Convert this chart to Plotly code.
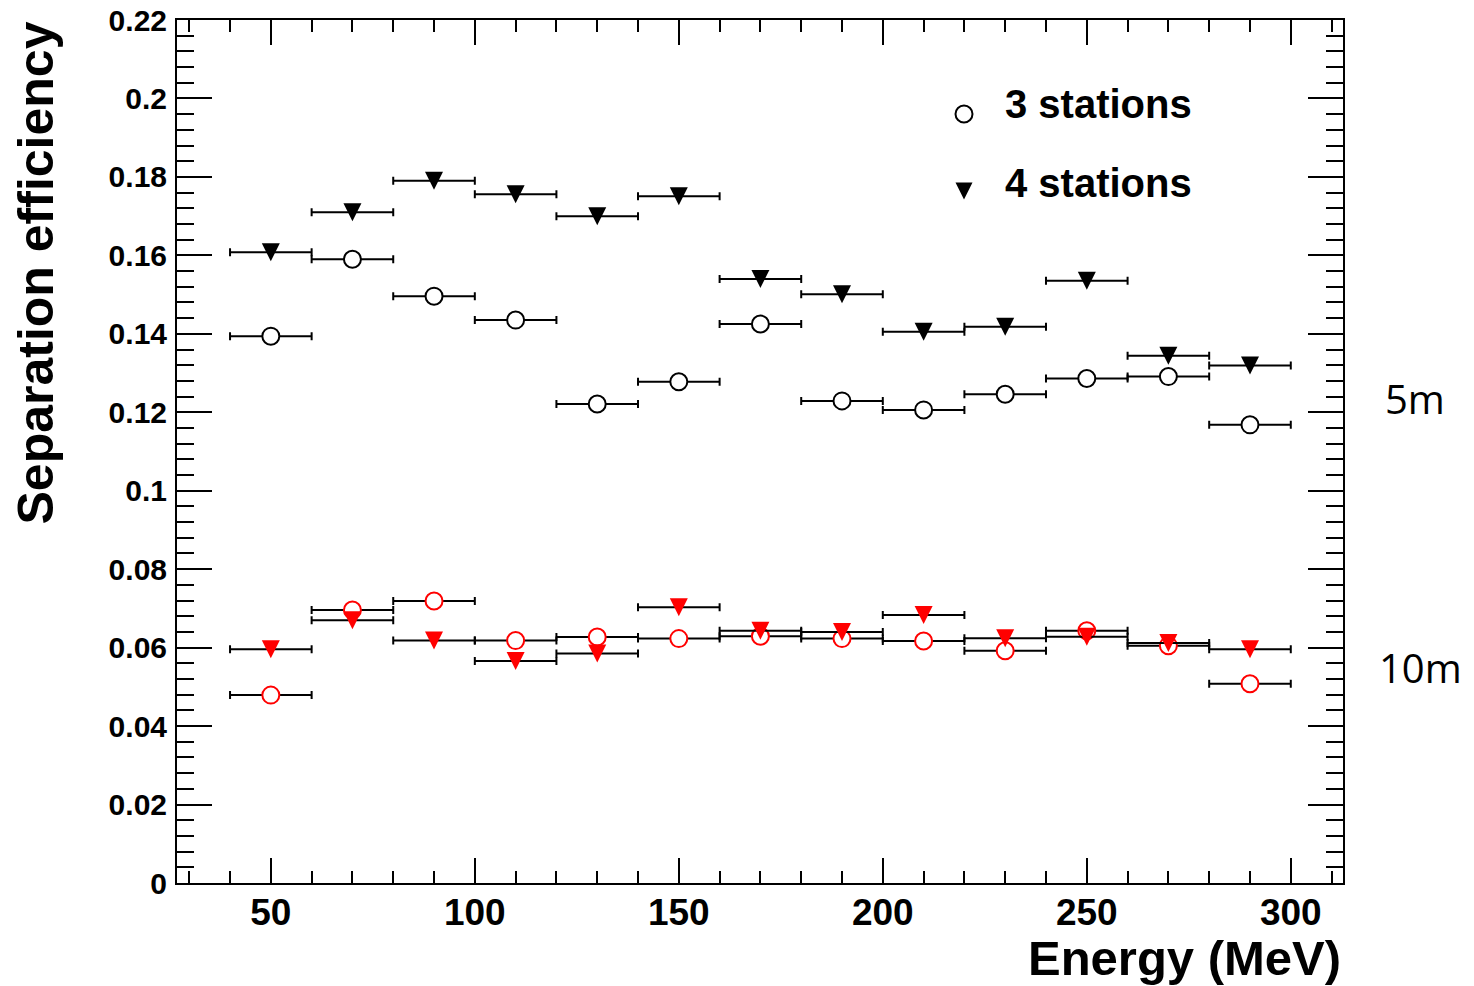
import plotly.graph_objects as go

energy = [50, 70, 90, 110, 130, 150, 170, 190, 210, 230, 250, 270, 290]
bin_half_width = [10] * 13

eff_3st_5m = [0.1394, 0.1590, 0.1496, 0.1435, 0.1221, 0.1278, 0.1425, 0.1229, 0.1206, 0.1246, 0.1286, 0.1291, 0.1168]
eff_4st_5m = [0.1608, 0.1710, 0.1790, 0.1756, 0.1700, 0.1751, 0.1540, 0.1501, 0.1405, 0.1418, 0.1535, 0.1344, 0.1319]
eff_3st_10m = [0.0479, 0.0696, 0.0719, 0.0618, 0.0627, 0.0623, 0.0629, 0.0623, 0.0617, 0.0592, 0.0643, 0.0605, 0.0508]
eff_4st_10m = [0.0596, 0.0670, 0.0618, 0.0566, 0.0585, 0.0703, 0.0643, 0.0640, 0.0683, 0.0624, 0.0628, 0.0612, 0.0596]

y_tick_vals = [0, 0.02, 0.04, 0.06, 0.08, 0.1, 0.12, 0.14, 0.16, 0.18, 0.2, 0.22]
y_tick_text = ["0", "0.02", "0.04", "0.06", "0.08", "0.1", "0.12", "0.14", "0.16", "0.18", "0.2", "0.22"]
x_tick_vals = [50, 100, 150, 200, 250, 300]
x_tick_text = ["50", "100", "150", "200", "250", "300"]

legend_labels = ["3 stations", "4 stations"]
distance_labels = ["5m", "10m"]

BOLD = "Liberation Sans"
L, R, T, B = 177, 131, 20, 103
W, H = 1474, 986
PW, PH = W - L - R, H - T - B


def px(p):
    return (p - L) / PW


def py(p):
    return (H - B - p) / PH


err = dict(type="data", array=bin_half_width, symmetric=True, color="black", thickness=2, width=4)

fig = go.Figure()


def circles(y, color, name):
    fig.add_trace(go.Scatter(
        x=energy, y=y, mode="markers", name=name, showlegend=False,
        error_x=err,
        marker=dict(symbol="circle", size=17, color="white", line=dict(color=color, width=2)),
    ))


def triangles(y, color, name):
    fig.add_trace(go.Scatter(
        x=energy, y=y, mode="markers", name=name, showlegend=False,
        error_x=err,
        marker=dict(symbol="arrow-down", size=18, color=color, standoff=9,
                    line=dict(width=0)),
    ))


circles(eff_3st_5m, "black", "3 stations, 5m")
triangles(eff_4st_5m, "black", "4 stations, 5m")
circles(eff_3st_10m, "red", "3 stations, 10m")
triangles(eff_4st_10m, "red", "4 stations, 10m")

axis_common = dict(
    showgrid=False, zeroline=False, showline=True, linecolor="black", linewidth=2,
    mirror="allticks", ticks="inside", tickcolor="black", tickwidth=2, automargin=False,
)

fig.update_xaxes(
    range=[27.0, 312.8], tickvals=x_tick_vals, ticktext=x_tick_text, ticklen=25,
    tickfont=dict(family=BOLD, size=37, color="black", weight="bold"),
    ticklabelstandoff=-4,
    minor=dict(dtick=10, tick0=0, ticks="inside", ticklen=12, tickwidth=2, tickcolor="black"),
    **axis_common,
)
fig.update_yaxes(
    range=[0, 0.22], tickvals=y_tick_vals, ticktext=y_tick_text, ticklen=35,
    tickfont=dict(family=BOLD, size=30, color="black", weight="bold"),
    ticklabelstandoff=2,
    minor=dict(dtick=0.004, tick0=0, ticks="inside", ticklen=17, tickwidth=2, tickcolor="black"),
    **axis_common,
)

annotations = [
    dict(text="Separation efficiency", textangle=-90, xref="paper", yref="paper",
         x=px(35), y=1.0, xanchor="center", yanchor="top", showarrow=False,
         font=dict(family=BOLD, size=50, color="black", weight="bold")),
    dict(text="Energy (MeV)", xref="paper", yref="paper",
         x=1.0, y=py(958), xanchor="right", yanchor="middle", showarrow=False,
         font=dict(family=BOLD, size=49, color="black", weight="bold")),
    dict(text=legend_labels[0], xref="paper", yref="paper",
         x=px(1003), y=py(104), xanchor="left", yanchor="middle", showarrow=False,
         font=dict(family=BOLD, size=40, color="black", weight="bold")),
    dict(text=legend_labels[1], xref="paper", yref="paper",
         x=px(1003), y=py(183), xanchor="left", yanchor="middle", showarrow=False,
         font=dict(family=BOLD, size=40, color="black", weight="bold")),
    dict(text=distance_labels[0], xref="paper", yref="paper",
         x=px(1415), y=py(398), xanchor="center", yanchor="middle", showarrow=False,
         font=dict(family="Open Sans", size=40, color="black")),
    dict(text=distance_labels[1], xref="paper", yref="paper",
         x=px(1420), y=py(667), xanchor="center", yanchor="middle", showarrow=False,
         font=dict(family="Open Sans", size=40, color="black")),
]

shapes = [
    dict(type="circle", xref="paper", yref="paper", xsizemode="pixel", ysizemode="pixel",
         xanchor=px(964), yanchor=py(114), x0=-8.5, x1=8.5, y0=-8.5, y1=8.5,
         line=dict(color="black", width=2), fillcolor="white"),
    dict(type="path", xref="paper", yref="paper", xsizemode="pixel", ysizemode="pixel",
         xanchor=px(964), yanchor=py(191), path="M -8.5 8.5 L 8.5 8.5 L 0 -8.5 Z",
         line=dict(color="black", width=0), fillcolor="black"),
]

fig.update_layout(
    width=W, height=H, margin=dict(l=L, r=R, t=T, b=B, pad=0),
    plot_bgcolor="white", paper_bgcolor="white", showlegend=False,
    annotations=annotations, shapes=shapes,
)

fig.write_html(
    "out.html",
    config={"displayModeBar": False},
    post_script="document.body.style.margin='0';document.body.style.overflow='hidden';",
)
